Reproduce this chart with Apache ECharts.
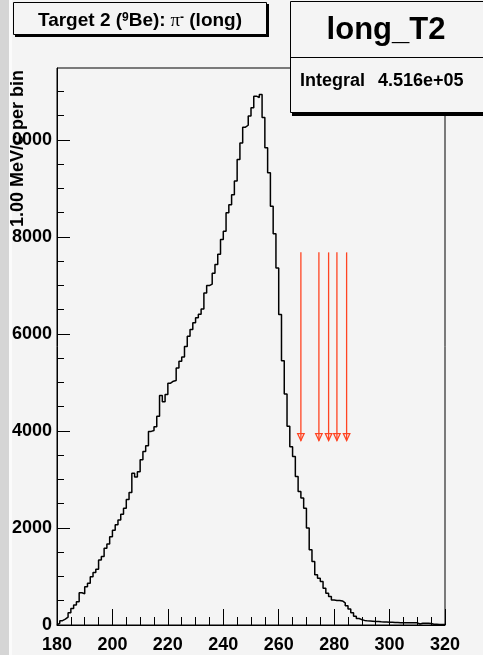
<!DOCTYPE html>
<html>
<head>
<meta charset="utf-8">
<script src="https://cdn.jsdelivr.net/npm/echarts@6/dist/echarts.min.js"></script>
<style>
  html, body { margin: 0; padding: 0; background: #f4f4f4; }
  #chart { width: 483px; height: 655px; }
</style>
</head>
<body>
<div id="chart"></div>
<script>
// histogram: 1 MeV bins starting at 180
var binStart = 180;
var binWidth = 1;
var counts = [
  40, 90, 120, 160, 250, 340, 410, 480, 665, 645,
  790, 860, 995, 1080, 1150, 1340, 1410, 1580, 1670, 1820,
  1955, 2065, 2165, 2285, 2405, 2585, 2730, 3130, 3050, 3160,
  3405, 3575, 3695, 3990, 4010, 4085, 4300, 4730, 4600, 4750,
  4985, 5025, 5040, 5295, 5435, 5525, 5740, 5950, 6090, 6230,
  6330, 6405, 6515, 6845, 6995, 7025, 7250, 7430, 7640, 7945,
  8115, 8495, 8660, 8870, 9150, 9595, 9935, 10260, 10300, 10490,
  10660, 10900, 10870, 10935, 10460, 9835, 9320, 8630, 8065, 7360,
  6400, 5445, 4760, 4095, 3675, 3475, 3060, 2750, 2615, 2405,
  2000, 1550, 1310, 1035, 965, 895, 755, 655, 585, 515,
  505, 505, 495, 455, 395, 330, 250, 180, 135, 110,
  95, 85, 80, 75, 70, 70, 65, 62, 60, 58,
  55, 52, 50, 48, 48, 48, 45, 45, 45, 45,
  20, 35, 35, 35, 30, 15, 15, 12, 12, 10
];

var xMajorTicks = [180, 200, 220, 240, 260, 280, 300, 320];
var xMinorTicks = [185, 190, 195, 205, 210, 215, 225, 230, 235, 245, 250, 255,
  265, 270, 275, 285, 290, 295, 305, 310, 315];
var yMajorTicks = [0, 2000, 4000, 6000, 8000, 10000];
var yMinorTicks = [500, 1000, 1500, 2500, 3000, 3500, 4500, 5000, 5500, 6500, 7000,
  7500, 8500, 9000, 9500, 10500, 11000, 11500];
var yMax = 11480;

// red cut arrows
var arrowX = [268, 274.5, 278, 281, 284.5];
var arrowTop = 7680;
var arrowTip = 3800;

var statsName = "long_T2";
var integralText = "4.516e+05";
var yTitle = "1.00 MeV/c per bin";

var FONT = "'Liberation Sans', Arial, Helvetica, sans-serif";
var RED = "#ff4422";
var BG = "#f4f4f4";

var steps = [[binStart, 0]];
for (var i = 0; i < counts.length; i++) {
  steps.push([binStart + i * binWidth, counts[i]]);
}
steps.push([binStart + counts.length * binWidth, counts[counts.length - 1]]);

var arrows = arrowX.map(function (x) { return [x, arrowTop, arrowTip]; });

var chart = echarts.init(document.getElementById("chart"));

var axisFont = { color: "#000", fontFamily: FONT, fontWeight: "bold", fontSize: 18 };

chart.setOption({
  backgroundColor: BG,
  animation: false,
  grid: {
    left: 57,
    right: 38,
    top: 68,
    bottom: 30,
    show: true,
    borderColor: "#000",
    borderWidth: 1,
    backgroundColor: "transparent",
    outerBoundsMode: "none"
  },
  xAxis: [
    {
      type: "value",
      min: 180,
      max: 320,
      position: "bottom",
      splitLine: { show: false },
      axisLine: { onZero: false, lineStyle: { color: "#000", width: 1 } },
      axisTick: {
        inside: true,
        length: 16,
        customValues: xMajorTicks,
        lineStyle: { color: "#000" }
      },
      axisLabel: Object.assign({ margin: 11, customValues: xMajorTicks }, axisFont)
    },
    {
      type: "value",
      min: 180,
      max: 320,
      position: "bottom",
      splitLine: { show: false },
      axisLine: { show: false, onZero: false },
      axisLabel: { show: false },
      axisTick: {
        inside: true,
        length: 8,
        customValues: xMinorTicks,
        lineStyle: { color: "#000" }
      }
    }
  ],
  yAxis: [
    {
      type: "value",
      min: 0,
      max: yMax,
      position: "left",
      splitLine: { show: false },
      axisLine: { show: true, onZero: false, lineStyle: { color: "#000", width: 1 } },
      axisTick: {
        show: true,
        inside: true,
        length: 13,
        customValues: yMajorTicks,
        lineStyle: { color: "#000" }
      },
      axisLabel: Object.assign({
        margin: 5,
        customValues: yMajorTicks,
        formatter: function (v) { return String(v); }
      }, axisFont)
    },
    {
      type: "value",
      min: 0,
      max: yMax,
      position: "left",
      splitLine: { show: false },
      axisLine: { show: false, onZero: false },
      axisLabel: { show: false },
      axisTick: {
        show: true,
        inside: true,
        length: 7,
        customValues: yMinorTicks,
        lineStyle: { color: "#000" }
      }
    }
  ],
  series: [
    {
      name: statsName,
      type: "line",
      step: "end",
      data: steps,
      showSymbol: false,
      symbol: "none",
      lineStyle: { color: "#000", width: 1.5 },
      z: 3
    },
    {
      type: "custom",
      data: arrows,
      encode: { x: 0, y: 1 },
      z: 4,
      renderItem: function (params, api) {
        var top = api.coord([api.value(0), api.value(1)]);
        var tip = api.coord([api.value(0), api.value(2)]);
        return {
          type: "group",
          children: [
            {
              type: "line",
              shape: { x1: top[0], y1: top[1], x2: tip[0], y2: tip[1] },
              style: { stroke: RED, lineWidth: 1.3 }
            },
            {
              type: "polygon",
              shape: { points: [[tip[0] - 3.3, tip[1] - 7], [tip[0] + 3.3, tip[1] - 7], [tip[0], tip[1]]] },
              style: { fill: "none", stroke: RED, lineWidth: 1.2 }
            }
          ]
        };
      }
    }
  ],
  graphic: [
    { type: "rect", shape: { x: 0, y: 0, width: 9, height: 655 }, style: { fill: "#d5d5d5" }, z: 100 },
    { type: "rect", shape: { x: 9, y: 0, width: 3, height: 655 }, style: { fill: "#fbfbfb" }, z: 100 },
    // y axis title
    {
      type: "text",
      x: 18,
      y: 227,
      rotation: Math.PI / 2,
      z: 110,
      style: {
        text: yTitle,
        fill: "#000",
        font: "bold 18px " + FONT,
        textAlign: "left",
        textVerticalAlign: "middle",
        align: "left",
        verticalAlign: "middle"
      }
    },
    // title pave with shadow
    { type: "rect", shape: { x: 15, y: 4, width: 254, height: 33 }, style: { fill: "#000" }, z: 100 },
    { type: "rect", shape: { x: 13.5, y: 2.5, width: 253, height: 32 }, style: { fill: BG, stroke: "#000", lineWidth: 1 }, z: 101 },
    {
      type: "text",
      x: 140,
      y: 21,
      z: 102,
      style: {
        text: "{b|Target 2 (}{s|9}{b|Be):}{g| π}{s|-}{b| (long)}",
        align: "center",
        verticalAlign: "middle",
        textAlign: "center",
        textVerticalAlign: "middle",
        fill: "#000",
        rich: {
          b: { fontFamily: FONT, fontWeight: "bold", fontSize: 19, fill: "#000", color: "#000" },
          g: { fontFamily: "'Liberation Serif', serif", fontSize: 19, fill: "#000", color: "#000" },
          s: { fontFamily: FONT, fontWeight: "bold", fontSize: 12, verticalAlign: "top", fill: "#000", color: "#000" }
        }
      }
    },
    // stats box with shadow
    { type: "rect", shape: { x: 292, y: 4, width: 200, height: 112 }, style: { fill: "#000" }, z: 100 },
    { type: "rect", shape: { x: 290.5, y: 1.5, width: 200, height: 111 }, style: { fill: BG, stroke: "#000", lineWidth: 1 }, z: 101 },
    { type: "line", shape: { x1: 290, y1: 57.5, x2: 483, y2: 57.5 }, style: { stroke: "#000", lineWidth: 1 }, z: 102 },
    {
      type: "text",
      x: 386,
      y: 30,
      z: 102,
      style: {
        text: statsName,
        fill: "#000",
        font: "bold 31px " + FONT,
        textAlign: "center",
        textVerticalAlign: "middle",
        align: "center",
        verticalAlign: "middle"
      }
    },
    {
      type: "text",
      x: 300,
      y: 81,
      z: 102,
      style: {
        text: "Integral",
        fill: "#000",
        font: "bold 18px " + FONT,
        textAlign: "left",
        textVerticalAlign: "middle",
        align: "left",
        verticalAlign: "middle"
      }
    },
    {
      type: "text",
      x: 378,
      y: 81,
      z: 102,
      style: {
        text: integralText,
        fill: "#000",
        font: "bold 18px " + FONT,
        textAlign: "left",
        textVerticalAlign: "middle",
        align: "left",
        verticalAlign: "middle"
      }
    }
  ]
});
</script>
</body>
</html>
